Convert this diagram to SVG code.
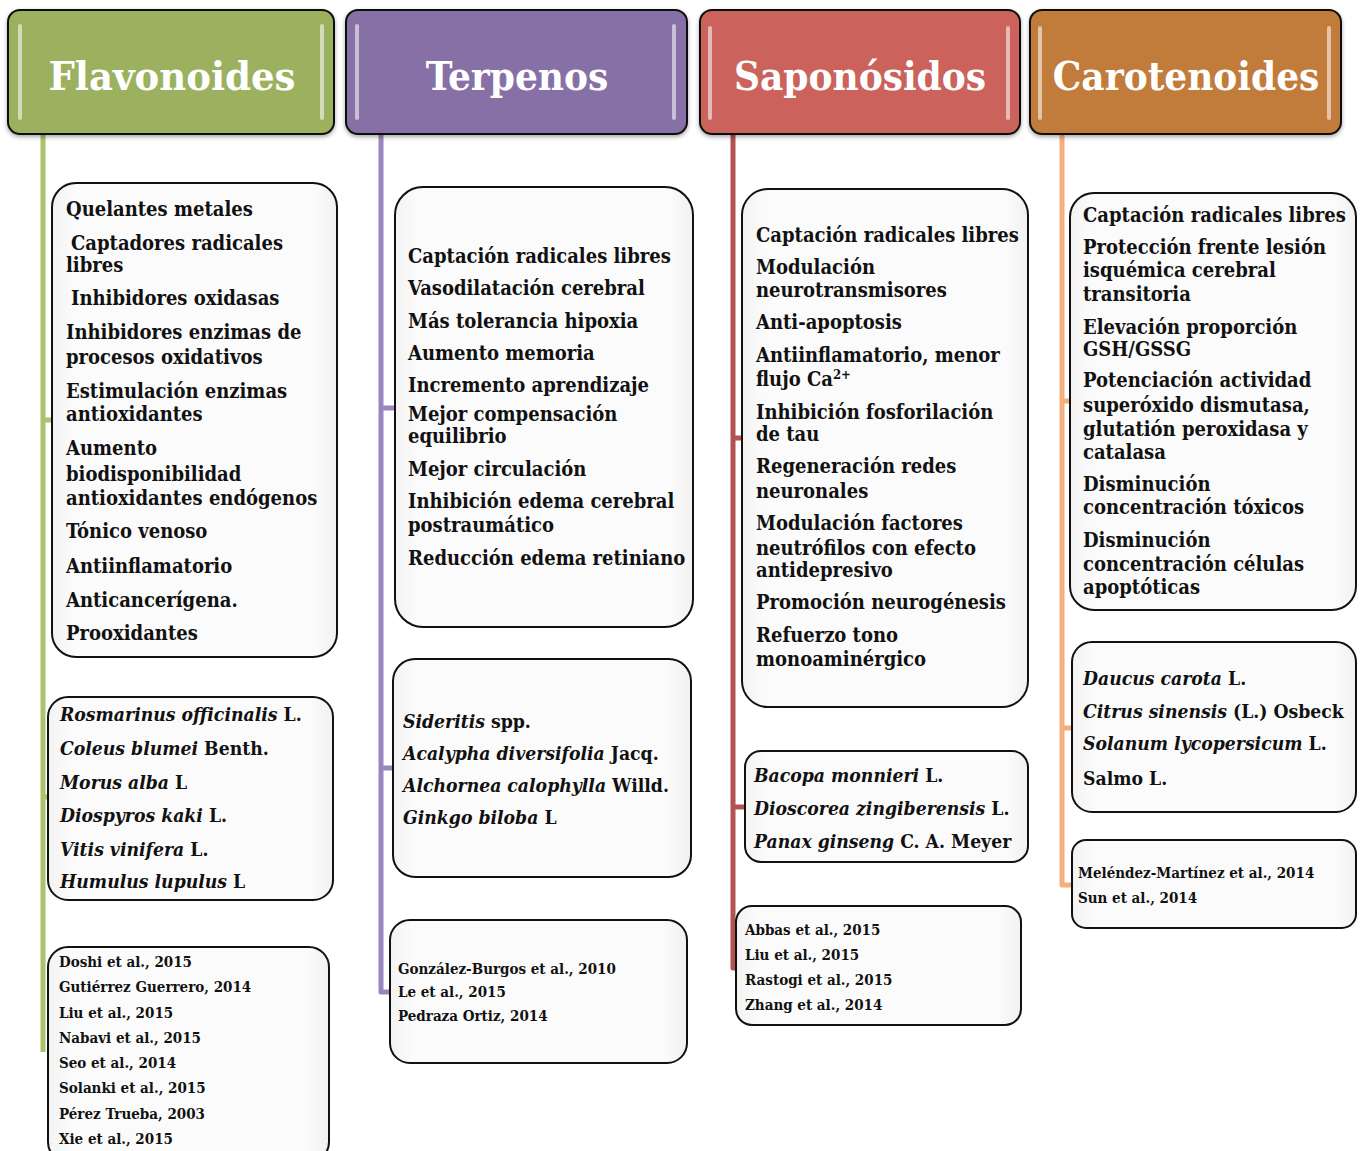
<svg xmlns="http://www.w3.org/2000/svg" width="1361" height="1151" viewBox="0 0 1361 1151">
<defs>
<style>
.hd{font-family:'DejaVu Serif Condensed','DejaVu Serif',serif;font-weight:bold;font-size:40px;fill:#fff;text-anchor:middle}
.t{font-family:'DejaVu Serif Condensed','DejaVu Serif',serif;font-weight:bold;font-size:20px;fill:#111}
.s{font-size:19.2px}
.r{font-family:'DejaVu Serif Condensed','DejaVu Serif',serif;font-weight:bold;font-size:15px;fill:#111}
.i{font-style:italic}
.box{fill:url(#boxg);stroke:#111;stroke-width:2}
.hbox{stroke:#111;stroke-width:2}
.bar{fill:#fff;opacity:0.55}
.ln{fill:none;stroke-width:5;stroke-linejoin:round}
</style>
<linearGradient id="boxg" x1="0" y1="0" x2="1" y2="0">
<stop offset="0" stop-color="#f3f3f3"/>
<stop offset="0.08" stop-color="#fbfbfb"/>
<stop offset="0.92" stop-color="#fbfbfb"/>
<stop offset="1" stop-color="#f1f1f1"/>
</linearGradient>
<filter id="sh" x="-10%" y="-10%" width="120%" height="130%">
<feDropShadow dx="0" dy="2" stdDeviation="2" flood-color="#000" flood-opacity="0.35"/>
</filter>
</defs>
<rect width="1361" height="1151" fill="#fff"/>

<g id="connectors">
<path class="ln" stroke="#a9c46c" d="M43,134 V1052 M43,420 H52 M43,797 H48"/>
<path class="ln" stroke="#9b85be" d="M381,134 V992 H390 M381,408 H395 M381,768 H392"/>
<path class="ln" stroke="#b35350" stroke-width="6" d="M733,134 V968 H736 M733,438 H742 M733,807 H746"/>
<path class="ln" stroke="#f4af7e" d="M1062,134 V885 H1072 M1062,401 H1070 M1062,728 H1072"/>
</g>

<g id="flavonoides">
<rect class="hbox" filter="url(#sh)" x="8" y="10" width="326" height="124" rx="12" fill="#9bb160"/>
<rect class="bar" x="18" y="24" width="4" height="96" rx="2"/>
<rect class="bar" x="320" y="24" width="4" height="96" rx="2"/>
<text class="hd" x="172" y="90" textLength="247" lengthAdjust="spacingAndGlyphs">Flavonoides</text>
</g>
<g id="terpenos">
<rect class="hbox" filter="url(#sh)" x="346" y="10" width="341" height="124" rx="12" fill="#8670a6"/>
<rect class="bar" x="355" y="24" width="4" height="96" rx="2"/>
<rect class="bar" x="672" y="24" width="4" height="96" rx="2"/>
<text class="hd" x="517" y="90">Terpenos</text>
</g>
<g id="saponosidos">
<rect class="hbox" filter="url(#sh)" x="700" y="10" width="320" height="124" rx="12" fill="#cb645c"/>
<rect class="bar" x="708" y="26" width="4" height="94" rx="2"/>
<rect class="bar" x="1006" y="26" width="4" height="94" rx="2"/>
<text class="hd" x="860" y="90">Saponósidos</text>
</g>
<g id="carotenoides">
<rect class="hbox" filter="url(#sh)" x="1030" y="10" width="311" height="124" rx="12" fill="#c17c3a"/>
<rect class="bar" x="1038" y="26" width="4" height="94" rx="2"/>
<rect class="bar" x="1327" y="26" width="4" height="94" rx="2"/>
<text class="hd" x="1186" y="90">Carotenoides</text>
</g>

<g id="flav-efectos">
<rect class="box" x="52" y="183" width="285" height="474" rx="24"/>
<text class="t" x="66" y="216">Quelantes metales</text>
<text class="t" x="71" y="250">Captadores radicales</text>
<text class="t" x="66" y="272">libres</text>
<text class="t" x="71" y="305">Inhibidores oxidasas</text>
<text class="t" x="66" y="339">Inhibidores enzimas de</text>
<text class="t" x="66" y="364">procesos oxidativos</text>
<text class="t" x="66" y="398">Estimulación enzimas</text>
<text class="t" x="66" y="421">antioxidantes</text>
<text class="t" x="66" y="455">Aumento</text>
<text class="t" x="66" y="481">biodisponibilidad</text>
<text class="t" x="66" y="505">antioxidantes endógenos</text>
<text class="t" x="66" y="538">Tónico venoso</text>
<text class="t" x="66" y="573">Antiinflamatorio</text>
<text class="t" x="66" y="607">Anticancerígena.</text>
<text class="t" x="66" y="640">Prooxidantes</text>
</g>
<g id="flav-especies">
<rect class="box" x="48" y="697" width="285" height="203" rx="20"/>
<text class="t s" x="60" y="721"><tspan class="i">Rosmarinus officinalis</tspan> L.</text>
<text class="t s" x="60" y="755"><tspan class="i">Coleus blumei</tspan> Benth.</text>
<text class="t s" x="60" y="789"><tspan class="i">Morus alba</tspan> L</text>
<text class="t s" x="60" y="822"><tspan class="i">Diospyros kaki</tspan> L.</text>
<text class="t s" x="60" y="856"><tspan class="i">Vitis vinifera</tspan> L.</text>
<text class="t s" x="60" y="888"><tspan class="i">Humulus lupulus</tspan> L</text>
</g>
<g id="flav-refs">
<rect class="box" x="48" y="947" width="281" height="215" rx="20"/>
<text class="r" x="59" y="967">Doshi et al., 2015</text>
<text class="r" x="59" y="992">Gutiérrez Guerrero, 2014</text>
<text class="r" x="59" y="1018">Liu et al., 2015</text>
<text class="r" x="59" y="1043">Nabavi et al., 2015</text>
<text class="r" x="59" y="1068">Seo  et al., 2014</text>
<text class="r" x="59" y="1093">Solanki et al., 2015</text>
<text class="r" x="59" y="1119">Pérez Trueba, 2003</text>
<text class="r" x="59" y="1144">Xie et al., 2015</text>
</g>

<g id="terp-efectos">
<rect class="box" x="395" y="187" width="298" height="440" rx="28"/>
<text class="t" x="408" y="263">Captación radicales libres</text>
<text class="t" x="408" y="295">Vasodilatación cerebral</text>
<text class="t" x="408" y="328">Más tolerancia hipoxia</text>
<text class="t" x="408" y="360">Aumento memoria</text>
<text class="t" x="408" y="392">Incremento aprendizaje</text>
<text class="t" x="408" y="421">Mejor compensación</text>
<text class="t" x="408" y="443">equilibrio</text>
<text class="t" x="408" y="476">Mejor circulación</text>
<text class="t" x="408" y="508">Inhibición edema cerebral</text>
<text class="t" x="408" y="532">postraumático</text>
<text class="t" x="408" y="565">Reducción edema retiniano</text>
</g>
<g id="terp-especies">
<rect class="box" x="393" y="659" width="298" height="218" rx="22"/>
<text class="t s" x="403" y="728"><tspan class="i">Sideritis</tspan> spp.</text>
<text class="t s" x="403" y="760"><tspan class="i">Acalypha diversifolia</tspan> Jacq.</text>
<text class="t s" x="403" y="792"><tspan class="i">Alchornea calophylla</tspan> Willd.</text>
<text class="t s" x="403" y="824"><tspan class="i">Ginkgo biloba</tspan> L</text>
</g>
<g id="terp-refs">
<rect class="box" x="390" y="920" width="297" height="143" rx="20"/>
<text class="r" x="398" y="974">González-Burgos et al., 2010</text>
<text class="r" x="398" y="997">Le et al., 2015</text>
<text class="r" x="398" y="1021">Pedraza Ortiz, 2014</text>
</g>

<g id="sapo-efectos">
<rect class="box" x="742" y="189" width="286" height="518" rx="26"/>
<text class="t" x="756" y="242">Captación radicales libres</text>
<text class="t" x="756" y="274">Modulación</text>
<text class="t" x="756" y="297">neurotransmisores</text>
<text class="t" x="756" y="329">Anti-apoptosis</text>
<text class="t" x="756" y="362">Antiinflamatorio, menor</text>
<text class="t" x="756" y="386">flujo Ca<tspan font-size="13" dy="-7">2+</tspan></text>
<text class="t" x="756" y="419">Inhibición fosforilación</text>
<text class="t" x="756" y="441">de tau</text>
<text class="t" x="756" y="473">Regeneración redes</text>
<text class="t" x="756" y="498">neuronales</text>
<text class="t" x="756" y="530">Modulación factores</text>
<text class="t" x="756" y="555">neutrófilos con efecto</text>
<text class="t" x="756" y="577">antidepresivo</text>
<text class="t" x="756" y="609">Promoción neurogénesis</text>
<text class="t" x="756" y="642">Refuerzo tono</text>
<text class="t" x="756" y="666">monoaminérgico</text>
</g>
<g id="sapo-especies">
<rect class="box" x="745" y="751" width="283" height="111" rx="16"/>
<text class="t s" x="754" y="782"><tspan class="i">Bacopa monnieri</tspan> L.</text>
<text class="t s" x="754" y="815"><tspan class="i">Dioscorea zingiberensis</tspan> L.</text>
<text class="t s" x="754" y="848"><tspan class="i">Panax ginseng</tspan> C. A. Meyer</text>
</g>
<g id="sapo-refs">
<rect class="box" x="736" y="906" width="285" height="119" rx="16"/>
<text class="r" x="745" y="935">Abbas et al., 2015</text>
<text class="r" x="745" y="960">Liu et al., 2015</text>
<text class="r" x="745" y="985">Rastogi et al., 2015</text>
<text class="r" x="745" y="1010">Zhang et al., 2014</text>
</g>

<g id="caro-efectos">
<rect class="box" x="1070" y="193" width="286" height="417" rx="24"/>
<text class="t" x="1083" y="222">Captación radicales libres</text>
<text class="t" x="1083" y="254">Protección frente lesión</text>
<text class="t" x="1083" y="277">isquémica cerebral</text>
<text class="t" x="1083" y="301">transitoria</text>
<text class="t" x="1083" y="334">Elevación proporción</text>
<text class="t" x="1083" y="356">GSH/GSSG</text>
<text class="t" x="1083" y="387">Potenciación actividad</text>
<text class="t" x="1083" y="412">superóxido dismutasa,</text>
<text class="t" x="1083" y="436">glutatión peroxidasa y</text>
<text class="t" x="1083" y="459">catalasa</text>
<text class="t" x="1083" y="491">Disminución</text>
<text class="t" x="1083" y="514">concentración tóxicos</text>
<text class="t" x="1083" y="547">Disminución</text>
<text class="t" x="1083" y="571">concentración células</text>
<text class="t" x="1083" y="594">apoptóticas</text>
</g>
<g id="caro-especies">
<rect class="box" x="1072" y="642" width="284" height="170" rx="20"/>
<text class="t s" x="1083" y="685"><tspan class="i">Daucus carota</tspan> L.</text>
<text class="t s" x="1083" y="718"><tspan class="i">Citrus sinensis</tspan> (L.) Osbeck</text>
<text class="t s" x="1083" y="750"><tspan class="i">Solanum lycopersicum</tspan> L.</text>
<text class="t s" x="1083" y="785">Salmo L.</text>
</g>
<g id="caro-refs">
<rect class="box" x="1072" y="840" width="284" height="88" rx="14"/>
<text class="r" x="1078" y="878">Meléndez-Martínez et al., 2014</text>
<text class="r" x="1078" y="903">Sun et al., 2014</text>
</g>
</svg>
